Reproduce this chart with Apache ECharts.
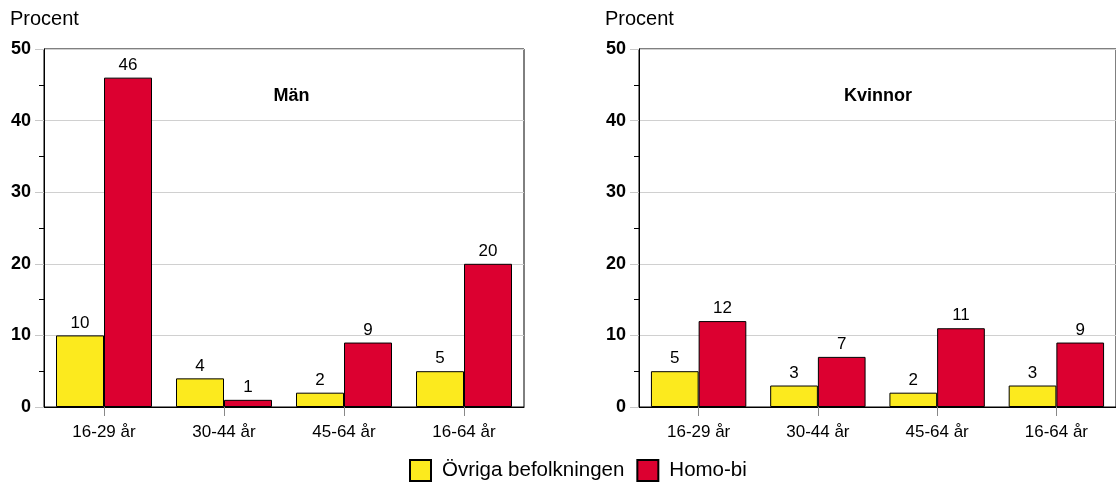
<!DOCTYPE html>
<html><head><meta charset="utf-8">
<script src="https://cdn.jsdelivr.net/npm/echarts@6/dist/echarts.min.js"></script>
<style>html,body{margin:0;padding:0;background:#fff}#c{width:1116px;height:486px}</style>
</head><body><div id="c"></div>
<script>
const categories = ['16-29 år', '30-44 år', '45-64 år', '16-64 år'];
const panelTitles = ['Män', 'Kvinnor'];
const seriesNames = ['Övriga befolkningen', 'Homo-bi'];
const manOvriga = [10, 4, 2, 5];
const manHomo = [46, 1, 9, 20];
const kvinnorOvriga = [5, 3, 2, 3];
const kvinnorHomo = [12, 7, 11, 9];
const yTicks = [0, 10, 20, 30, 40, 50];
const yLabel = 'Procent';

const FONT = '"Liberation Sans", Arial, sans-serif';
const colors = ['#fcea1e', '#dc0030'];
const chart = echarts.init(document.getElementById('c'));

function xAxis(gi) {
  return {
    type: 'category', gridIndex: gi, data: categories,
    axisLine: { show: true, lineStyle: { color: '#000', width: 1 } },
    axisTick: { show: true, alignWithLabel: true, length: 9, lineStyle: { color: '#888' } },
    axisLabel: { color: '#000', fontSize: 17, fontFamily: FONT, margin: 17 }
  };
}
function yAxis(gi) {
  return {
    type: 'value', gridIndex: gi, min: yTicks[0], max: yTicks[yTicks.length - 1], interval: 10,
    axisLine: { show: true, lineStyle: { color: '#000', width: 1 } },
    axisTick: { show: true, length: 9, lineStyle: { color: '#c8c8c8' } },
    minorTick: { show: true, splitNumber: 2, length: 5, lineStyle: { color: '#000' } },
    splitLine: { show: true, lineStyle: { color: '#d0d0d0', width: 1 } },
    axisLabel: { color: '#000', fontSize: 18, fontWeight: 'bold', fontFamily: FONT, margin: 13 }
  };
}
function bar(name, data, idx, gi) {
  return {
    name: name, type: 'bar', xAxisIndex: gi, yAxisIndex: gi, data: data,
    barGap: '0%', barCategoryGap: '20%',
    itemStyle: { color: colors[idx], borderColor: '#000', borderWidth: 1 },
    label: { show: true, position: 'top', color: '#000', fontSize: 17, fontFamily: FONT, distance: 4 },
    emphasis: { disabled: true }
  };
}

chart.setOption({
  animation: false,
  textStyle: { fontFamily: FONT },
  grid: [
    { left: 44, top: 49, width: 480, height: 358, show: true, borderColor: '#000', borderWidth: 1, backgroundColor: 'transparent' },
    { left: 639, top: 49, width: 480, height: 358, show: true, borderColor: '#000', borderWidth: 1, backgroundColor: 'transparent' }
  ],
  xAxis: [xAxis(0), xAxis(1)],
  yAxis: [yAxis(0), yAxis(1)],
  legend: {
    left: 409, top: 459, padding: 0, itemWidth: 21, itemHeight: 21, itemGap: 12,
    icon: 'rect',
    data: seriesNames,
    textStyle: { color: '#000', fontSize: 20.5, fontFamily: FONT, padding: [2, 0, 0, 6] }
  },
  graphic: [
    { type: 'text', left: 10, top: 9, style: { text: yLabel, fontSize: 20, fontFamily: FONT, fill: '#000' } },
    { type: 'text', left: 605, top: 9, style: { text: yLabel, fontSize: 20, fontFamily: FONT, fill: '#000' } },
    { type: 'text', x: 291.5, y: 96, style: { text: panelTitles[0], fontSize: 18, fontWeight: 'bold', fontFamily: FONT, fill: '#000', align: 'center', verticalAlign: 'middle' } },
    { type: 'text', x: 878, y: 96, style: { text: panelTitles[1], fontSize: 18, fontWeight: 'bold', fontFamily: FONT, fill: '#000', align: 'center', verticalAlign: 'middle' } }
  ],
  series: [
    bar(seriesNames[0], manOvriga, 0, 0),
    bar(seriesNames[1], manHomo, 1, 0),
    bar(seriesNames[0], kvinnorOvriga, 0, 1),
    bar(seriesNames[1], kvinnorHomo, 1, 1)
  ]
});
</script></body></html>
